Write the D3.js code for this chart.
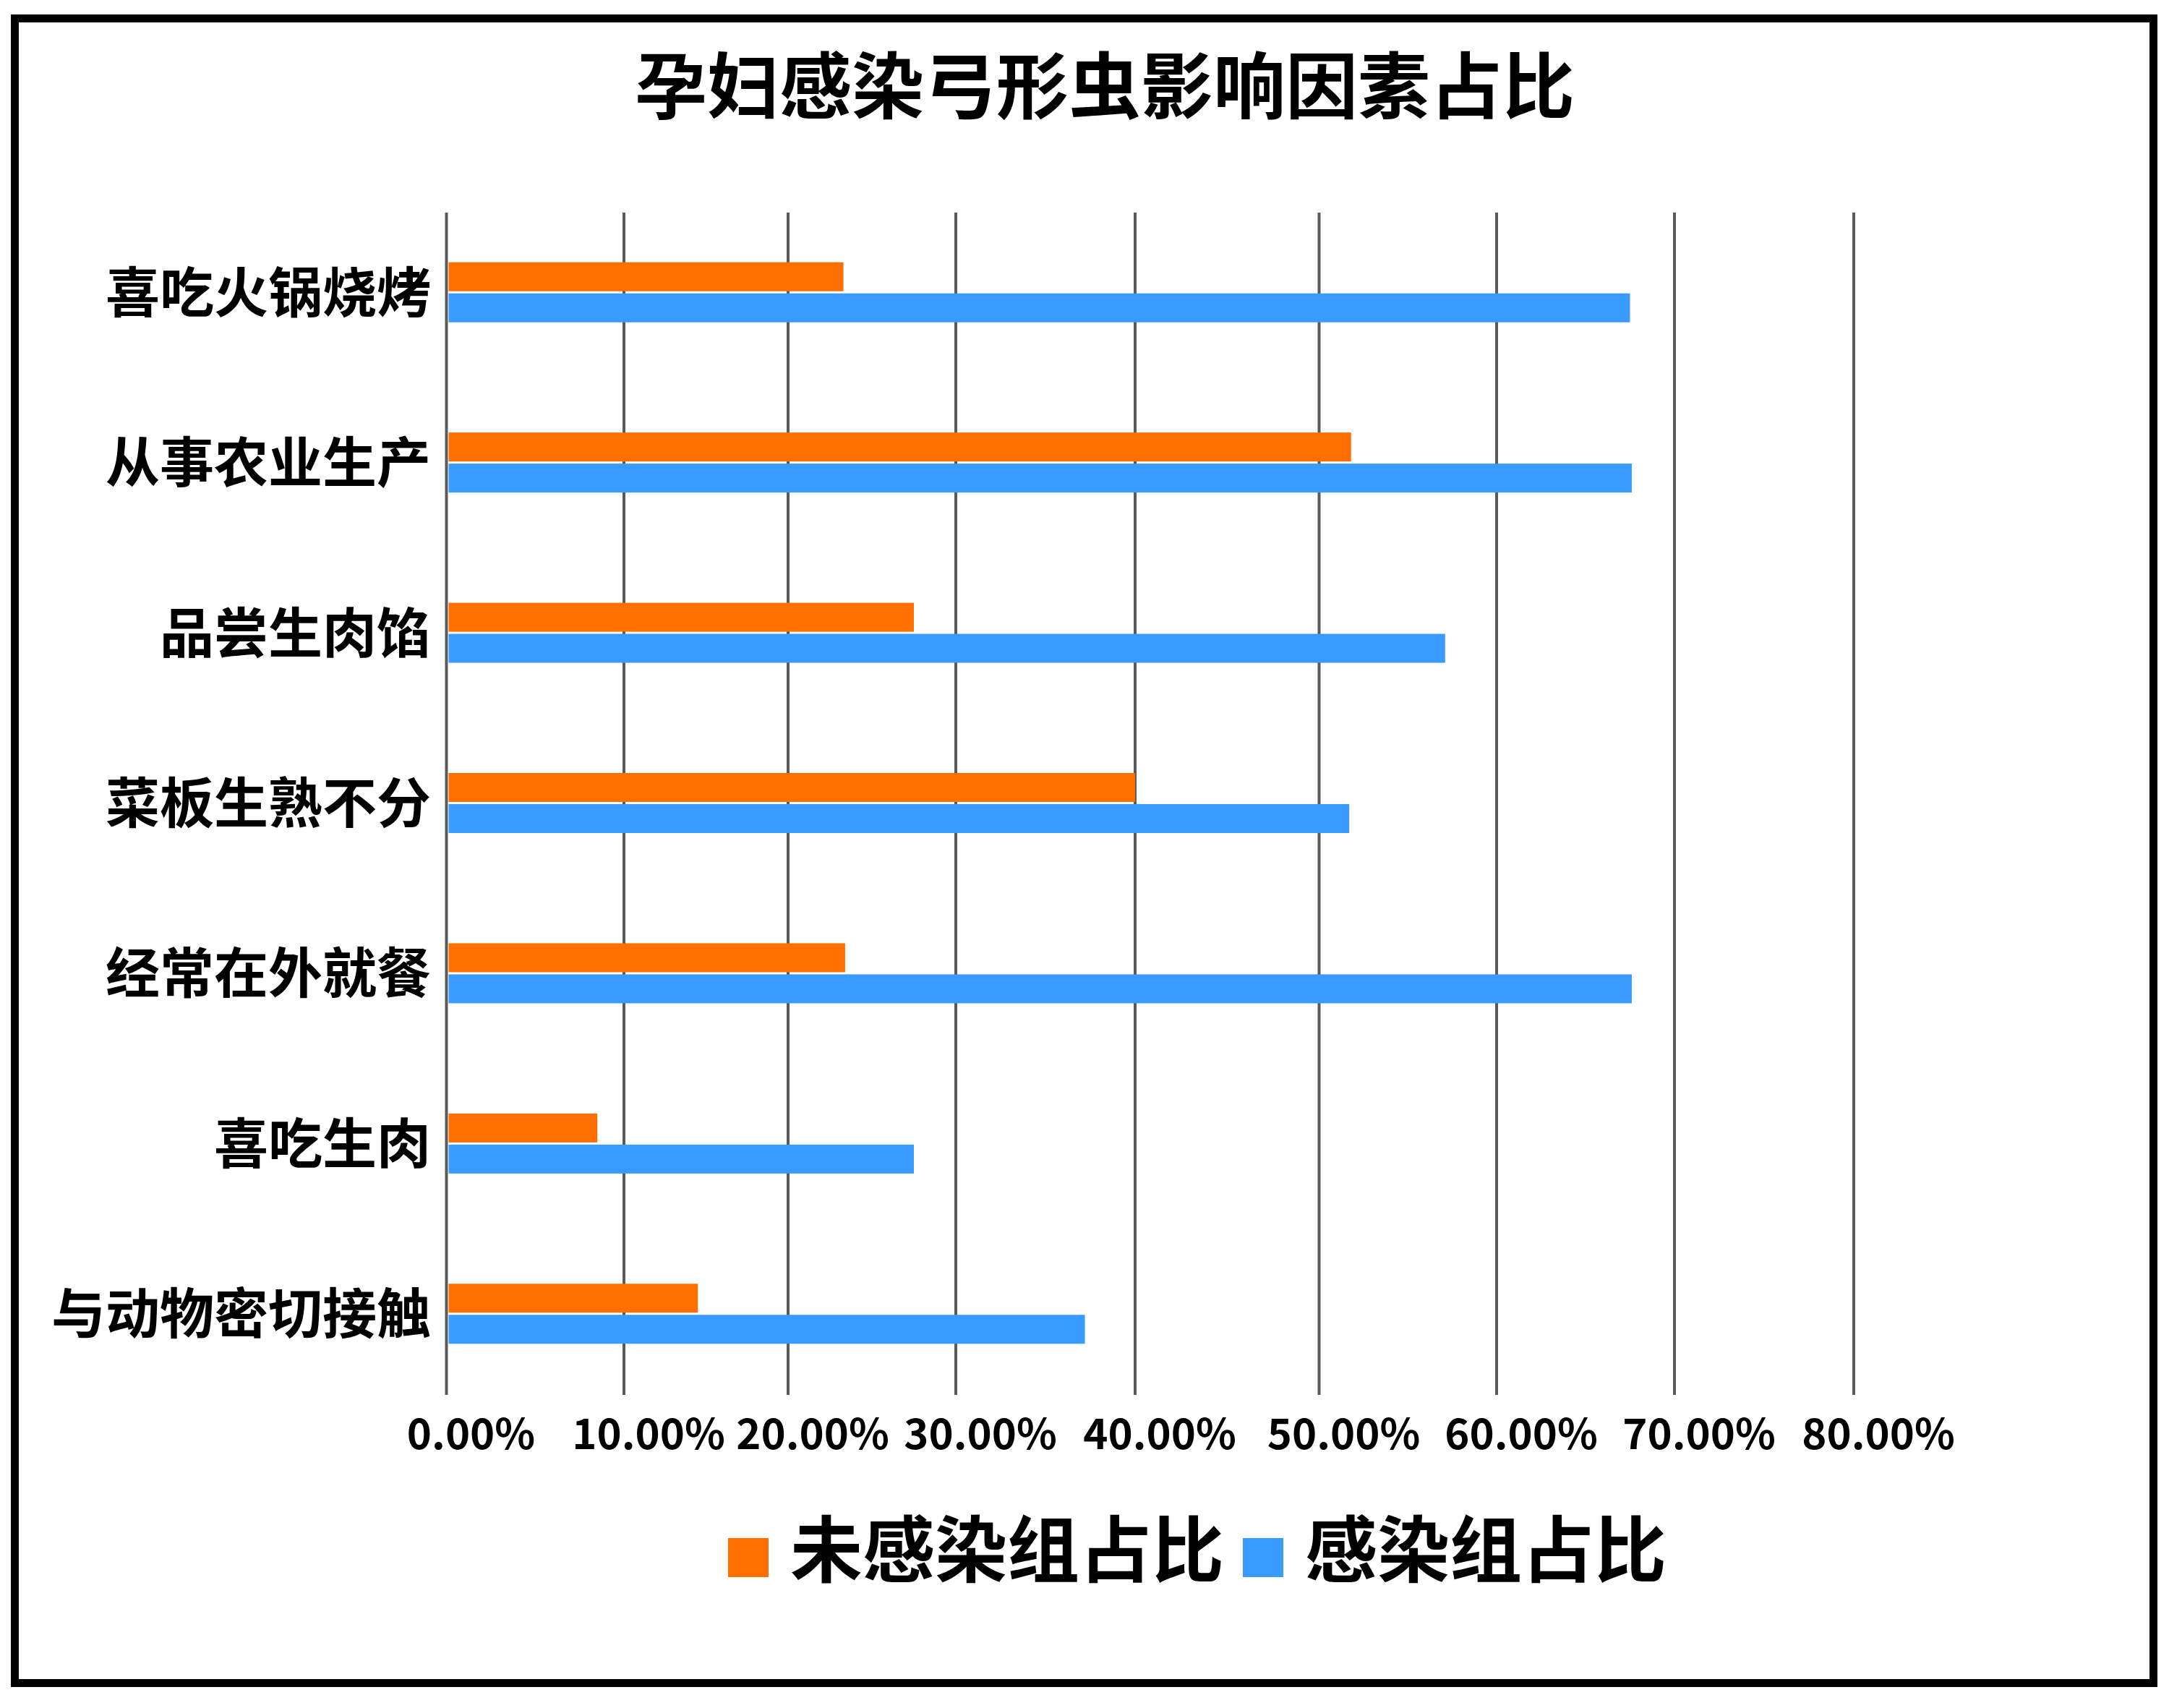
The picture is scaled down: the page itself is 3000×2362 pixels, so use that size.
<!DOCTYPE html>
<html><head><meta charset="utf-8">
<script src="https://cdn.jsdelivr.net/npm/d3@7"></script>
<style>body{margin:0;background:#fff}svg{display:block}</style>
</head><body>
<svg id="c" width="3000" height="2362"></svg>
<script>
// ---- data ----
const categories = ["喜吃火锅烧烤","从事农业生产","品尝生肉馅","菜板生熟不分","经常在外就餐","喜吃生肉","与动物密切接触"];
const seriesNames = ["未感染组占比","感染组占比"];
const uninfected = [23.3, 51.8, 27.5, 40.0, 23.4, 8.5, 14.5];
const infected   = [67.5, 67.6, 57.1, 51.7, 67.6, 27.5, 37.2];
const tickValues = [0,10,20,30,40,50,60,70,80];
const tickLabels = ["0.00%","10.00%","20.00%","30.00%","40.00%","50.00%","60.00%","70.00%","80.00%"];
const title = "孕妇感染弓形虫影响因素占比";
const colors = ["#FF6F00","#399BFF"];

// ---- layout ----
const FONT = "'Noto Sans CJK SC','Noto Sans',sans-serif";
const svg = d3.select("#c");
svg.append("rect").attr("width",3000).attr("height",2362).attr("fill","#fff");
svg.append("rect").attr("x",20.5).attr("y",25.5).attr("width",2958).attr("height",2302)
  .attr("fill","none").attr("stroke","#000").attr("stroke-width",11);

svg.append("text").attr("x",1528).attr("y",156).attr("text-anchor","middle")
  .attr("font-family",FONT).attr("font-weight",700).attr("font-size",100).attr("fill","#000").text(title);

// the reference grid is slightly uneven; map each tick to its drawn position
const x = d3.scaleLinear().domain(tickValues).range([617.5,863,1090,1322,1570,1824.5,2070,2316,2564]);
const y = d3.scaleBand().domain(categories).range([287,1935]).padding(0);
const gridTop = 294, gridBottom = 1929;

// grid lines
svg.append("g").selectAll("line").data(tickValues).join("line")
  .attr("x1",d=>x(d)).attr("x2",d=>x(d)).attr("y1",gridTop).attr("y2",gridBottom)
  .attr("stroke","#5a5a5a").attr("stroke-width",4);

// tick labels
svg.append("g").selectAll("text").data(tickValues).join("text")
  .attr("x",d=>x(d)+34).attr("y",2004).attr("text-anchor","middle")
  .attr("font-family",FONT).attr("font-weight",700).attr("font-size",58).attr("fill","#000")
  .text((d,i)=>tickLabels[i]);

// bars
const barH = 40;
const series = [uninfected, infected];
series.forEach((vals,si)=>{
  svg.append("g").selectAll("rect").data(categories).join("rect")
    .attr("x",x(0)+3)
    .attr("y",(c)=>y(c)+y.bandwidth()/2 + (si===0 ? -42 : 1))
    .attr("width",(c,i)=>x(vals[i])-x(0)-3)
    .attr("height",barH)
    .attr("fill",colors[si]);
});

// category labels
svg.append("g").selectAll("text").data(categories).join("text")
  .attr("x",596).attr("y",c=>y(c)+y.bandwidth()/2+27)
  .attr("text-anchor","end")
  .attr("font-family",FONT).attr("font-weight",700).attr("font-size",75).attr("fill","#000")
  .text(c=>c);

// legend
const legendX = [1007,1719];
seriesNames.forEach((n,i)=>{
  svg.append("rect").attr("x",legendX[i]).attr("y",2127).attr("width",56).attr("height",54).attr("fill",colors[i]);
  svg.append("text").attr("x",legendX[i]+86).attr("y",2180)
    .attr("font-family",FONT).attr("font-weight",700).attr("font-size",100).attr("fill","#000").text(n);
});
</script>
</body></html>
